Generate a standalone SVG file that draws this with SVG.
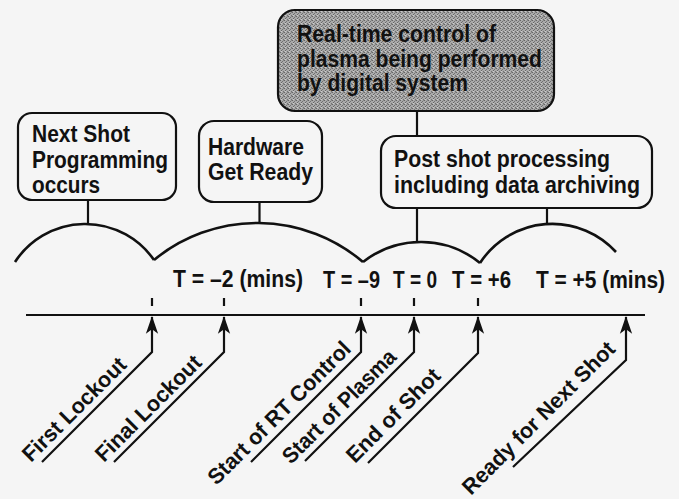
<svg xmlns="http://www.w3.org/2000/svg" width="679" height="499" viewBox="0 0 679 499">
  <style>
    .box { fill: #f5f5f5; stroke: #111; stroke-width: 2.2; }
    .shaded { fill: url(#stipple); stroke: #111; stroke-width: 2.2; }
    .t { font-family: "Liberation Sans", Arial, sans-serif; font-weight: bold; font-size: 23px; fill: #111; }
    .tl { font-family: "Liberation Sans", Arial, sans-serif; font-weight: bold; font-size: 22px; fill: #111; }
    .wire { fill: none; stroke: #111; stroke-width: 2.2; }
    .arc { fill: none; stroke: #111; stroke-width: 2.6; }
    .lead { fill: none; stroke: #111; stroke-width: 2.2; marker-start: url(#head); }
  </style>
  <defs>
    <pattern id="stipple" width="4" height="4" patternUnits="userSpaceOnUse">
      <rect width="4" height="4" fill="#aaaaaa"/>
      <rect x="0" y="0" width="1" height="1" fill="#666666"/>
      <rect x="2" y="1" width="1" height="1" fill="#727272"/>
      <rect x="1" y="2" width="1" height="1" fill="#666666"/>
      <rect x="3" y="3" width="1" height="1" fill="#727272"/>
      <rect x="3" y="0" width="1" height="1" fill="#888888"/>
      <rect x="1" y="3" width="1" height="1" fill="#cccccc"/>
    </pattern>
    <marker id="head" markerUnits="userSpaceOnUse" markerWidth="20" markerHeight="20" viewBox="-16 -8 18 16" refX="0" refY="0" orient="auto-start-reverse">
      <path d="M1,0 L-15,-5.5 L-11,0 L-15,5.5 Z" fill="#111"/>
    </marker>
  </defs>

  <rect width="679" height="499" fill="#f5f5f5"/>

  <!-- activity boxes -->
  <g id="next-shot-programming">
    <rect class="box" x="18" y="113" width="158" height="87" rx="14"/>
    <text class="t" x="32" y="142" textLength="98" lengthAdjust="spacingAndGlyphs">Next Shot</text>
    <text class="t" x="32" y="168" textLength="136" lengthAdjust="spacingAndGlyphs">Programming</text>
    <text class="t" x="32" y="193" textLength="68" lengthAdjust="spacingAndGlyphs">occurs</text>
  </g>

  <g id="hardware-get-ready">
    <rect class="box" x="199" y="121" width="123" height="81" rx="15"/>
    <text class="t" x="208" y="155" textLength="96" lengthAdjust="spacingAndGlyphs">Hardware</text>
    <text class="t" x="208" y="180" textLength="105" lengthAdjust="spacingAndGlyphs">Get Ready</text>
  </g>

  <g id="realtime-control">
    <rect class="shaded" x="278" y="10" width="276" height="101" rx="17"/>
    <text class="t" x="297" y="42" textLength="199" lengthAdjust="spacingAndGlyphs">Real-time control of</text>
    <text class="t" x="297" y="67" textLength="245" lengthAdjust="spacingAndGlyphs">plasma being performed</text>
    <text class="t" x="297" y="91" textLength="171" lengthAdjust="spacingAndGlyphs">by digital system</text>
  </g>

  <g id="post-shot-processing">
    <rect class="box" x="381" y="136" width="271" height="72" rx="15"/>
    <text class="t" x="394" y="167" textLength="216" lengthAdjust="spacingAndGlyphs">Post shot processing</text>
    <text class="t" x="394" y="193" textLength="246" lengthAdjust="spacingAndGlyphs">including data archiving</text>
  </g>

  <!-- phase arcs, stems, timeline and event leaders -->
  <g id="connectors">
    <path class="arc" d="M15,262 A83.7,83.7 0 0 1 154,260"/>
    <path class="arc" d="M154,260 A162.6,162.6 0 0 1 363,262"/>
    <path class="arc" d="M363,262 A93.5,93.5 0 0 1 480,263"/>
    <path class="arc" d="M480,263 A86.3,86.3 0 0 1 616,252"/>

    <path class="wire" d="M88,200 V224"/>
    <path class="wire" d="M259.5,202 V223"/>
    <path class="wire" d="M417,111 V136"/>
    <path class="wire" d="M417,208 V242"/>
    <path class="wire" d="M547,208 V224"/>

    <path class="wire" stroke-width="2.6" d="M26,315 H645"/>

    <path class="wire" d="M152,298 V306 M224,298 V306 M361,298 V306 M414,298 V306 M478,298 V306"/>

    <path class="lead" d="M152,317 V352 L42,462"/>
    <path class="lead" d="M224,317 V352 L114,462"/>
    <path class="lead" d="M361,317 V352 L251,462"/>
    <path class="lead" d="M414,317 V352 L305,461"/>
    <path class="lead" d="M478,317 V353 L368,463"/>
    <path class="lead" d="M626,317 V360 L513,467"/>
  </g>

  <!-- time marks -->
  <g id="time-labels">
    <text class="t" x="173" y="287" textLength="130" lengthAdjust="spacingAndGlyphs">T = –2 (mins)</text>
    <text class="t" x="323" y="288" textLength="57" lengthAdjust="spacingAndGlyphs">T = –9</text>
    <text class="t" x="393" y="288" textLength="44" lengthAdjust="spacingAndGlyphs">T = 0</text>
    <text class="t" x="452" y="288" textLength="59" lengthAdjust="spacingAndGlyphs">T = +6</text>
    <text class="t" x="536" y="288" textLength="129" lengthAdjust="spacingAndGlyphs">T = +5 (mins)</text>
  </g>

  <!-- event labels -->
  <g id="event-labels">
    <text class="tl" transform="translate(31,463) rotate(-45)" textLength="137" lengthAdjust="spacingAndGlyphs">First Lockout</text>
    <text class="tl" transform="translate(104,463) rotate(-45)" textLength="140" lengthAdjust="spacingAndGlyphs">Final Lockout</text>
    <text class="tl" transform="translate(216.5,486) rotate(-45)" textLength="192" lengthAdjust="spacingAndGlyphs">Start of RT Control</text>
    <text class="tl" transform="translate(291,465) rotate(-45)" textLength="151" lengthAdjust="spacingAndGlyphs">Start of Plasma</text>
    <text class="tl" transform="translate(355,464) rotate(-45)" textLength="123" lengthAdjust="spacingAndGlyphs">End of Shot</text>
    <text class="tl" transform="translate(471,496) rotate(-45)" textLength="206" lengthAdjust="spacingAndGlyphs">Ready for Next Shot</text>
  </g>
</svg>
